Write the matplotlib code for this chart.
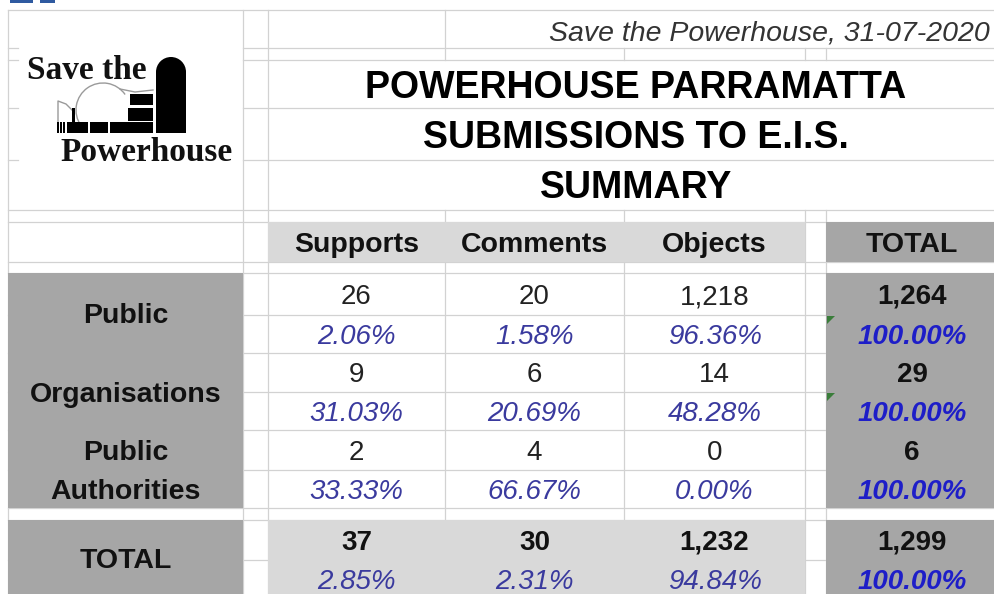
import numpy as np
import matplotlib.pyplot as plt
from matplotlib.patches import Rectangle, Wedge, Arc, Polygon

# data read from the sheet
columns = ["Supports", "Comments", "Objects"]
groups = ["Public", "Organisations", "Public\nAuthorities"]
counts = [[26, 20, 1218],
          [9, 6, 14],
          [2, 4, 0]]
pcts = [[2.06, 1.58, 96.36],
        [31.03, 20.69, 48.28],
        [33.33, 66.67, 0.00]]
group_totals = [1264, 29, 6]
col_totals = [37, 30, 1232]
col_total_pcts = [2.85, 2.31, 94.84]
grand_total = 1299
title_lines = ["POWERHOUSE PARRAMATTA", "SUBMISSIONS TO E.I.S.", "SUMMARY"]
subtitle = "Save the Powerhouse, 31-07-2020"

plt.rcParams['font.family'] = ['Liberation Sans', 'DejaVu Sans']

DARK = '#a6a6a6'
LIGHT = '#d9d9d9'
GRID = '#d2d2d2'
PCT = '#3a3a9e'
PCT_TOT = '#1e1ec8'

fig = plt.figure(figsize=(9.95, 5.94), dpi=100)
ax = fig.add_axes([0, 0, 1, 1])
ax.set_xlim(0, 995)
ax.set_ylim(594, 0)
ax.axis('off')

# sheet geometry (pixels)
col_edges = [268, 445, 624, 805]
tot_x = (826, 995)
row_tops = [273, 353, 430]   # each group: count row + pct row
row_mid = [315, 392, 470]
row_bot = [353, 430, 508]

def hline(y, x0, x1):
    ax.plot([x0, x1], [y, y], color=GRID, lw=0.9, zorder=1)

def vline(x, y0, y1):
    ax.plot([x, x], [y0, y1], color=GRID, lw=0.9, zorder=1)

def box(x0, y0, x1, y1, c):
    ax.add_patch(Rectangle((x0, y0), x1 - x0, y1 - y0, color=c, lw=0, zorder=2))

# gridlines
hline(10, 8, 995)
for y in [48, 60, 108, 160]:
    hline(y, 243, 995)
    hline(y, 8, 18)
for y in [210, 222, 262, 273, 315, 353, 392, 430, 470, 508, 520, 560]:
    hline(y, 8, 995)
vline(8, 10, 594)
for x in [243, 268]:
    vline(x, 10, 594)
for x in [805, 826]:
    vline(x, 48, 60)
    vline(x, 210, 594)
for x in [445, 624]:
    vline(x, 210, 594)
vline(445, 10, 60)
vline(624, 48, 60)

# cell fills
box(8, 273, 243, 508, DARK)
box(8, 520, 243, 594, DARK)
box(268, 222, 805, 262, LIGHT)
box(268, 520, 805, 594, LIGHT)
box(tot_x[0], 222, tot_x[1], 262, DARK)
box(tot_x[0], 273, tot_x[1], 508, DARK)
box(tot_x[0], 520, tot_x[1], 594, DARK)

# little blue bits at the top edge
box(10, 0, 33, 3, '#2f5aa0')
box(40, 0, 55, 3, '#2f5aa0')

# green error markers
for y in [316, 393]:
    ax.add_patch(Polygon([(827, y), (835, y), (827, y + 8)], color='#3a7d3a', lw=0, zorder=3))

# logo
lf = ['Liberation Serif', 'DejaVu Serif']
ax.text(27, 79, "Save the", family=lf, fontsize=24, fontweight='bold', color='#111', va='baseline', zorder=4)
ax.text(60, 161, "Powerhouse", family=lf, fontsize=24, fontweight='bold', color='#111', va='baseline', zorder=4)
ax.add_patch(Arc((103, 110), 54, 54, theta1=-215, theta2=-35, color='#9a9a9a', lw=1.0, zorder=3))
ax.plot([120, 135, 153], [89, 92, 90], color='#9a9a9a', lw=1.0, zorder=3)
ax.plot([58, 58, 66, 74], [122, 101, 104, 112], color='#9a9a9a', lw=1.0, zorder=3)
ax.add_patch(Rectangle((156, 72), 30, 61, color='black', lw=0, zorder=3))
ax.add_patch(Wedge((171, 72), 15, 180, 360, color='black', lw=0, zorder=3))
for x0, x1 in [(57, 59), (60, 62), (63, 65), (67, 88), (90, 108), (110, 153)]:
    ax.add_patch(Rectangle((x0, 122), x1 - x0, 11, color='black', lw=0, zorder=3))
ax.add_patch(Rectangle((128, 108), 25, 13, color='black', lw=0, zorder=3))
ax.add_patch(Rectangle((130, 94), 23, 11, color='black', lw=0, zorder=3))
ax.add_patch(Rectangle((72, 108), 3, 14, color='black', lw=0, zorder=3))

# titles
ax.text(990, 40, subtitle, fontsize=20.5, style='italic', color='#333', ha='right', va='baseline', zorder=4)
for i, t in enumerate(title_lines):
    ax.text(636, 85 + 50 * i + 13.5, t, fontsize=27, fontweight='bold', ha='center', va='baseline', zorder=4)

# header row
centers = [(col_edges[i] + col_edges[i + 1]) / 2 for i in range(3)]
tot_c = 912
for c, name in zip(centers, columns):
    ax.text(c, 252, name, fontsize=20.5, fontweight='bold', ha='center', va='baseline', color='#111', zorder=4)
ax.text(tot_c, 252, "TOTAL", fontsize=20.5, fontweight='bold', ha='center', va='baseline', color='#111', zorder=4)

# group rows
for g in range(3):
    yc = (row_tops[g] + row_mid[g]) / 2 + 10
    yp = (row_mid[g] + row_bot[g]) / 2 + 10
    for j in range(3):
        ax.text(centers[j], yc, f"{counts[g][j]:,}", fontsize=20, color='#222', ha='center', va='baseline', zorder=4)
        ax.text(centers[j], yp, f"{pcts[g][j]:.2f}%", fontsize=20, style='italic', color=PCT, ha='center', va='baseline', zorder=4)
    ax.text(tot_c, yc, f"{group_totals[g]:,}", fontsize=20, fontweight='bold', color='#111', ha='center', va='baseline', zorder=4)
    ax.text(tot_c, yp, "100.00%", fontsize=20, fontweight='bold', style='italic', color=PCT_TOT, ha='center', va='baseline', zorder=4)
    lab = groups[g].split("\n")
    if len(lab) == 1:
        ax.text(125.5, (row_tops[g] + row_bot[g]) / 2 + 10, lab[0],
                fontsize=20.5, fontweight='bold', ha='center', va='baseline', color='#111', zorder=4)
    else:
        ax.text(125.5, yc, lab[0], fontsize=20.5, fontweight='bold', ha='center', va='baseline', color='#111', zorder=4)
        ax.text(125.5, yp, lab[1], fontsize=20.5, fontweight='bold', ha='center', va='baseline', color='#111', zorder=4)

# totals row
ax.text(125.5, 568, "TOTAL", fontsize=20.5, fontweight='bold', ha='center', va='baseline', color='#111', zorder=4)
for j in range(3):
    ax.text(centers[j], 550, f"{col_totals[j]:,}", fontsize=20, fontweight='bold', color='#111', ha='center', va='baseline', zorder=4)
    ax.text(centers[j], 589, f"{col_total_pcts[j]:.2f}%", fontsize=20, style='italic', color=PCT, ha='center', va='baseline', zorder=4)
ax.text(tot_c, 550, f"{grand_total:,}", fontsize=20, fontweight='bold', color='#111', ha='center', va='baseline', zorder=4)
ax.text(tot_c, 589, "100.00%", fontsize=20, fontweight='bold', style='italic', color=PCT_TOT, ha='center', va='baseline', zorder=4)

fig.savefig('out.png', dpi=100, facecolor='white')
